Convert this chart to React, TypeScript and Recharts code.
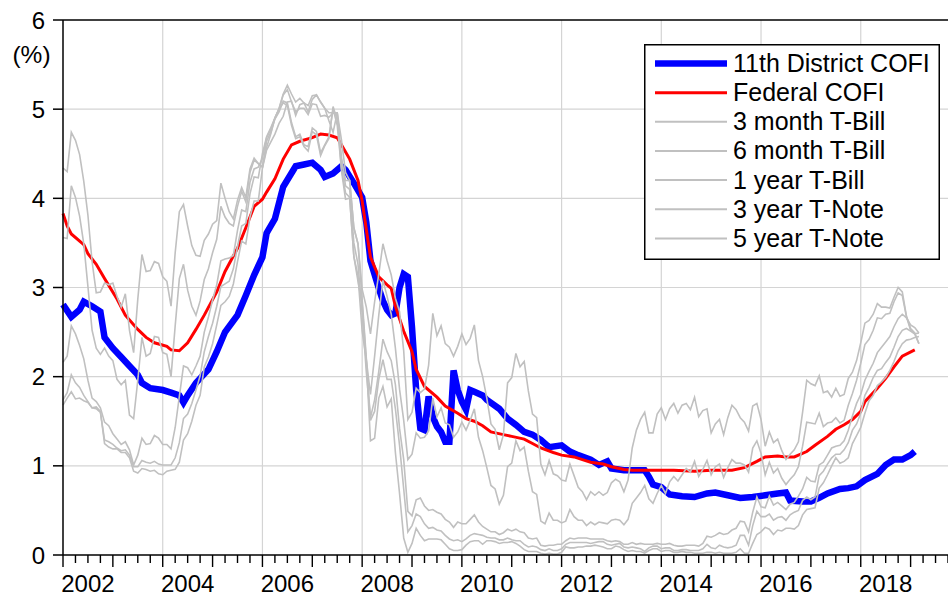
import React from 'react';
import { LineChart, Line, XAxis, YAxis, ReferenceLine, Legend, CartesianGrid } from 'recharts';

const FONT = '"Liberation Sans", Arial, Helvetica, sans-serif';

// 11th District COFI (month, %)
const cofi11Points: [string, number][] = [
  ['2002-01', 2.81], ['2002-03', 2.67], ['2002-05', 2.75], ['2002-06', 2.84], ['2002-08', 2.79], ['2002-10', 2.73],
  ['2002-11', 2.44], ['2003-01', 2.32], ['2003-03', 2.22], ['2003-05', 2.12], ['2003-07', 2.02], ['2003-08', 1.93],
  ['2003-10', 1.87], ['2004-01', 1.85], ['2004-03', 1.82], ['2004-05', 1.79], ['2004-06', 1.71], ['2004-07', 1.79],
  ['2004-09', 1.93], ['2004-12', 2.08], ['2005-02', 2.28], ['2005-04', 2.5], ['2005-07', 2.69], ['2005-09', 2.91],
  ['2005-11', 3.14], ['2006-01', 3.34], ['2006-02', 3.61], ['2006-04', 3.77], ['2006-06', 4.13], ['2006-09', 4.36],
  ['2006-11', 4.38], ['2007-01', 4.4], ['2007-03', 4.32], ['2007-04', 4.24], ['2007-06', 4.28], ['2007-08', 4.36],
  ['2007-09', 4.32], ['2007-11', 4.17], ['2008-01', 4.01], ['2008-02', 3.73], ['2008-03', 3.3], ['2008-05', 2.99],
  ['2008-06', 2.85], ['2008-07', 2.75], ['2008-08', 2.69], ['2008-09', 2.71], ['2008-10', 3.0], ['2008-11', 3.15],
  ['2008-12', 3.12], ['2009-01', 2.55], ['2009-02', 1.85], ['2009-03', 1.42], ['2009-04', 1.4], ['2009-05', 1.78],
  ['2009-06', 1.55], ['2009-07', 1.44], ['2009-08', 1.38], ['2009-09', 1.27], ['2009-10', 1.27], ['2009-11', 2.07],
  ['2009-12', 1.85], ['2010-01', 1.72], ['2010-02', 1.63], ['2010-03', 1.85], ['2010-04', 1.83], ['2010-06', 1.79],
  ['2010-07', 1.74], ['2010-10', 1.64], ['2010-12', 1.53], ['2011-02', 1.46], ['2011-04', 1.38], ['2011-06', 1.35],
  ['2011-08', 1.29], ['2011-10', 1.21], ['2012-01', 1.23], ['2012-03', 1.16], ['2012-05', 1.12], ['2012-08', 1.07],
  ['2012-10', 1.01], ['2012-12', 1.05], ['2013-01', 0.97], ['2013-04', 0.95], ['2013-06', 0.95], ['2013-09', 0.95],
  ['2013-10', 0.88], ['2013-11', 0.79], ['2014-01', 0.76], ['2014-03', 0.68], ['2014-06', 0.66], ['2014-09', 0.65],
  ['2014-12', 0.69], ['2015-02', 0.7], ['2015-05', 0.67], ['2015-08', 0.64], ['2015-11', 0.65], ['2016-02', 0.67],
  ['2016-05', 0.69], ['2016-07', 0.7], ['2016-08', 0.61], ['2016-11', 0.6], ['2017-01', 0.6], ['2017-03', 0.64],
  ['2017-05', 0.69], ['2017-08', 0.74], ['2017-10', 0.75], ['2017-12', 0.77], ['2018-02', 0.84], ['2018-05', 0.91],
  ['2018-07', 1.01], ['2018-09', 1.07], ['2018-11', 1.07], ['2019-01', 1.12], ['2019-02', 1.16],
];

// Federal COFI (month, %)
const fedCofiPoints: [string, number][] = [
  ['2002-01', 3.83], ['2002-02', 3.69], ['2002-03', 3.6], ['2002-06', 3.48], ['2002-07', 3.38], ['2002-09', 3.26],
  ['2002-11', 3.1], ['2003-02', 2.87], ['2003-04', 2.69], ['2003-07', 2.53], ['2003-09', 2.44], ['2003-11', 2.38],
  ['2004-02', 2.34], ['2004-03', 2.3], ['2004-05', 2.29], ['2004-07', 2.38], ['2004-09', 2.53], ['2004-11', 2.69],
  ['2005-02', 2.95], ['2005-04', 3.18], ['2005-07', 3.44], ['2005-09', 3.67], ['2005-11', 3.91], ['2006-01', 3.99],
  ['2006-02', 4.07], ['2006-04', 4.22], ['2006-06', 4.44], ['2006-08', 4.6], ['2006-10', 4.64], ['2007-01', 4.68],
  ['2007-03', 4.72], ['2007-05', 4.71], ['2007-07', 4.68], ['2007-08', 4.6], ['2007-10', 4.44], ['2007-12', 4.2],
  ['2008-01', 3.97], ['2008-02', 3.65], ['2008-03', 3.34], ['2008-05', 3.12], ['2008-07', 3.03], ['2008-08', 2.99],
  ['2008-09', 2.79], ['2008-11', 2.51], ['2009-01', 2.28], ['2009-02', 2.08], ['2009-04', 1.89], ['2009-07', 1.77],
  ['2009-09', 1.67], ['2009-12', 1.59], ['2010-02', 1.53], ['2010-04', 1.5], ['2010-06', 1.45], ['2010-08', 1.38],
  ['2010-11', 1.35], ['2011-01', 1.33], ['2011-04', 1.3], ['2011-06', 1.25], ['2011-08', 1.2], ['2011-11', 1.15],
  ['2012-01', 1.12], ['2012-04', 1.1], ['2012-06', 1.07], ['2012-08', 1.04], ['2012-11', 1.02], ['2013-01', 0.99],
  ['2013-04', 0.96], ['2013-06', 0.95], ['2013-09', 0.95], ['2014-01', 0.95], ['2014-04', 0.95], ['2014-09', 0.94],
  ['2015-01', 0.95], ['2015-06', 0.95], ['2015-09', 0.98], ['2015-12', 1.05], ['2016-02', 1.1], ['2016-05', 1.11],
  ['2016-07', 1.1], ['2016-09', 1.1], ['2016-12', 1.16], ['2017-02', 1.23], ['2017-05', 1.33], ['2017-07', 1.41],
  ['2017-09', 1.46], ['2017-11', 1.52], ['2018-01', 1.61], ['2018-02', 1.72], ['2018-05', 1.87], ['2018-07', 1.98],
  ['2018-09', 2.11], ['2018-11', 2.23], ['2019-02', 2.3],
];

// Treasury yields, monthly from 2002-01 to 2019-03 (%)
const TREASURY_START = '2002-01';

const tBill3m = [
  1.68, 1.76, 1.83, 1.75, 1.76, 1.73, 1.71, 1.65, 1.66, 1.61, 1.25, 1.21,
  1.19, 1.19, 1.15, 1.15, 1.09, 0.94, 0.92, 0.97, 0.96, 0.94, 0.95, 0.91,
  0.9, 0.94, 0.95, 0.96, 1.04, 1.29, 1.36, 1.5, 1.68, 1.79, 2.11, 2.22,
  2.37, 2.58, 2.8, 2.84, 2.9, 3.04, 3.29, 3.52, 3.49, 3.79, 3.97, 3.97,
  4.34, 4.54, 4.63, 4.72, 4.84, 4.92, 5.08, 5.09, 4.93, 5.05, 5.07, 4.97,
  5.11, 5.16, 5.08, 5.01, 4.87, 4.74, 4.96, 4.32, 3.99, 4.0, 3.35, 3.07,
  2.82, 2.17, 1.28, 1.31, 1.76, 1.89, 1.66, 1.75, 1.15, 0.69, 0.19, 0.03,
  0.13, 0.3, 0.22, 0.16, 0.18, 0.18, 0.18, 0.17, 0.12, 0.07, 0.05, 0.05,
  0.06, 0.11, 0.15, 0.16, 0.16, 0.12, 0.16, 0.16, 0.15, 0.13, 0.14, 0.14,
  0.15, 0.13, 0.1, 0.06, 0.04, 0.04, 0.04, 0.02, 0.01, 0.02, 0.01, 0.01,
  0.03, 0.09, 0.08, 0.08, 0.09, 0.09, 0.1, 0.1, 0.11, 0.1, 0.09, 0.07,
  0.07, 0.1, 0.09, 0.06, 0.04, 0.05, 0.04, 0.04, 0.02, 0.05, 0.07, 0.07,
  0.04, 0.05, 0.05, 0.03, 0.03, 0.04, 0.03, 0.03, 0.02, 0.02, 0.02, 0.03,
  0.03, 0.02, 0.03, 0.02, 0.02, 0.02, 0.03, 0.07, 0.02, 0.02, 0.13, 0.23,
  0.26, 0.31, 0.29, 0.23, 0.28, 0.27, 0.3, 0.3, 0.29, 0.33, 0.45, 0.51,
  0.52, 0.53, 0.75, 0.81, 0.9, 1.0, 1.09, 1.03, 1.05, 1.09, 1.25, 1.34,
  1.43, 1.59, 1.73, 1.79, 1.9, 1.94, 1.99, 2.07, 2.17, 2.29, 2.37, 2.41,
  2.42, 2.44, 2.45,
];

const tBill6m = [
  1.74, 1.82, 2.02, 1.93, 1.88, 1.79, 1.72, 1.65, 1.64, 1.6, 1.29, 1.27,
  1.24, 1.2, 1.17, 1.18, 1.12, 0.99, 0.99, 1.06, 1.04, 1.03, 1.05, 1.02,
  1.01, 1.01, 1.01, 1.09, 1.26, 1.53, 1.58, 1.7, 1.85, 2.01, 2.28, 2.45,
  2.6, 2.79, 3.01, 3.04, 3.07, 3.21, 3.46, 3.69, 3.72, 4.05, 4.24, 4.23,
  4.5, 4.69, 4.79, 4.9, 5.01, 5.17, 5.27, 5.17, 5.08, 5.12, 5.07, 5.04,
  5.15, 5.16, 5.08, 5.01, 4.96, 4.96, 4.96, 4.66, 4.29, 4.2, 3.67, 3.49,
  2.87, 2.21, 1.51, 1.61, 1.97, 2.19, 1.97, 1.97, 1.64, 1.23, 0.74, 0.26,
  0.33, 0.46, 0.43, 0.35, 0.3, 0.31, 0.28, 0.27, 0.22, 0.18, 0.16, 0.17,
  0.15, 0.18, 0.22, 0.24, 0.23, 0.22, 0.2, 0.19, 0.19, 0.17, 0.17, 0.19,
  0.17, 0.16, 0.16, 0.12, 0.09, 0.1, 0.09, 0.06, 0.05, 0.07, 0.05, 0.05,
  0.07, 0.12, 0.14, 0.14, 0.14, 0.14, 0.14, 0.13, 0.14, 0.15, 0.15, 0.12,
  0.11, 0.12, 0.13, 0.09, 0.08, 0.09, 0.08, 0.07, 0.04, 0.08, 0.1, 0.1,
  0.07, 0.08, 0.08, 0.05, 0.05, 0.06, 0.06, 0.05, 0.05, 0.05, 0.07, 0.12,
  0.08, 0.07, 0.11, 0.09, 0.08, 0.09, 0.11, 0.22, 0.22, 0.11, 0.33, 0.49,
  0.43, 0.43, 0.46, 0.39, 0.42, 0.43, 0.39, 0.45, 0.48, 0.5, 0.61, 0.65,
  0.62, 0.65, 0.89, 0.94, 1.02, 1.09, 1.13, 1.13, 1.18, 1.26, 1.4, 1.47,
  1.59, 1.79, 1.88, 1.99, 2.07, 2.09, 2.16, 2.22, 2.33, 2.45, 2.52, 2.54,
  2.51, 2.48, 2.49,
];

const tBill1y = [
  2.16, 2.23, 2.57, 2.48, 2.35, 2.2, 1.96, 1.76, 1.72, 1.65, 1.49, 1.45,
  1.36, 1.3, 1.24, 1.27, 1.18, 1.01, 1.12, 1.31, 1.24, 1.25, 1.34, 1.31,
  1.24, 1.24, 1.19, 1.43, 1.78, 2.12, 2.1, 2.02, 2.12, 2.23, 2.5, 2.67,
  2.86, 3.03, 3.3, 3.32, 3.33, 3.36, 3.64, 3.87, 3.85, 4.18, 4.33, 4.35,
  4.45, 4.68, 4.77, 4.9, 5.0, 5.16, 5.22, 5.08, 4.97, 5.01, 5.01, 4.94,
  5.06, 5.05, 4.92, 4.93, 4.91, 4.96, 4.96, 4.47, 4.14, 4.1, 3.5, 3.26,
  2.71, 2.05, 1.54, 1.74, 2.06, 2.42, 2.28, 2.18, 1.91, 1.42, 1.07, 0.49,
  0.44, 0.62, 0.64, 0.55, 0.5, 0.51, 0.48, 0.46, 0.4, 0.37, 0.31, 0.37,
  0.35, 0.35, 0.4, 0.45, 0.37, 0.32, 0.29, 0.26, 0.26, 0.23, 0.25, 0.29,
  0.27, 0.29, 0.26, 0.25, 0.19, 0.18, 0.19, 0.11, 0.1, 0.11, 0.11, 0.12,
  0.12, 0.16, 0.19, 0.18, 0.19, 0.19, 0.19, 0.18, 0.18, 0.18, 0.18, 0.16,
  0.15, 0.16, 0.15, 0.12, 0.12, 0.14, 0.12, 0.13, 0.12, 0.12, 0.12, 0.13,
  0.12, 0.12, 0.13, 0.11, 0.1, 0.1, 0.11, 0.11, 0.11, 0.1, 0.13, 0.21,
  0.2, 0.22, 0.25, 0.23, 0.24, 0.28, 0.3, 0.38, 0.37, 0.26, 0.48, 0.65,
  0.54, 0.53, 0.66, 0.56, 0.59, 0.55, 0.51, 0.57, 0.59, 0.66, 0.74, 0.87,
  0.83, 0.82, 1.01, 1.04, 1.12, 1.2, 1.22, 1.23, 1.28, 1.4, 1.56, 1.7,
  1.8, 1.96, 2.06, 2.15, 2.27, 2.33, 2.39, 2.45, 2.56, 2.65, 2.7, 2.66,
  2.58, 2.55, 2.49,
];

const tNote3y = [
  3.56, 3.55, 4.14, 4.01, 3.8, 3.49, 3.01, 2.52, 2.32, 2.25, 2.32, 2.23,
  2.18, 1.97, 1.91, 1.96, 1.57, 1.53, 1.96, 2.44, 2.23, 2.26, 2.45, 2.44,
  2.27, 2.25, 2.0, 2.57, 3.1, 3.26, 2.97, 2.79, 2.69, 2.85, 3.09, 3.21,
  3.39, 3.54, 3.91, 3.79, 3.72, 3.69, 3.91, 4.08, 3.96, 4.29, 4.43, 4.39,
  4.35, 4.64, 4.74, 4.89, 4.97, 5.09, 5.07, 4.85, 4.69, 4.72, 4.6, 4.58,
  4.79, 4.75, 4.51, 4.6, 4.69, 5.0, 4.82, 4.34, 4.06, 4.01, 3.35, 3.13,
  2.51, 2.19, 1.8, 2.23, 2.69, 3.08, 2.9, 2.7, 2.32, 1.86, 1.51, 1.07,
  1.13, 1.37, 1.31, 1.32, 1.39, 1.76, 1.55, 1.65, 1.48, 1.46, 1.32, 1.38,
  1.49, 1.4, 1.51, 1.64, 1.32, 1.17, 0.98, 0.78, 0.74, 0.57, 0.67, 0.99,
  1.03, 1.28, 1.17, 1.21, 0.94, 0.71, 0.68, 0.38, 0.35, 0.47, 0.39, 0.39,
  0.36, 0.38, 0.51, 0.43, 0.39, 0.39, 0.33, 0.37, 0.34, 0.37, 0.36, 0.35,
  0.39, 0.4, 0.39, 0.34, 0.4, 0.58, 0.64, 0.7, 0.78, 0.63, 0.58, 0.69,
  0.78, 0.69, 0.82, 0.88, 0.83, 0.9, 0.97, 0.93, 1.05, 0.88, 0.96, 1.06,
  0.9, 0.99, 1.02, 0.87, 0.98, 1.07, 1.03, 1.03, 1.01, 0.93, 1.2, 1.28,
  1.14, 0.9, 1.04, 0.92, 0.97, 0.86, 0.79, 0.85, 0.9, 0.99, 1.22, 1.49,
  1.48, 1.47, 1.59, 1.44, 1.48, 1.49, 1.54, 1.48, 1.51, 1.68, 1.81, 1.96,
  2.15, 2.36, 2.42, 2.52, 2.66, 2.65, 2.7, 2.71, 2.84, 2.94, 2.91, 2.67,
  2.52, 2.48, 2.37,
];

const tNote5y = [
  4.34, 4.3, 4.74, 4.65, 4.49, 4.19, 3.81, 3.29, 2.94, 2.95, 3.05, 3.03,
  3.05, 2.9, 2.78, 2.93, 2.52, 2.27, 2.87, 3.37, 3.18, 3.19, 3.29, 3.27,
  3.12, 3.07, 2.79, 3.39, 3.85, 3.93, 3.69, 3.47, 3.36, 3.35, 3.53, 3.6,
  3.71, 3.75, 4.17, 4.0, 3.85, 3.77, 3.98, 4.12, 4.01, 4.33, 4.45, 4.39,
  4.35, 4.57, 4.72, 4.9, 5.0, 5.07, 5.04, 4.82, 4.67, 4.69, 4.58, 4.53,
  4.75, 4.71, 4.48, 4.59, 4.67, 5.03, 4.88, 4.43, 4.2, 4.2, 3.67, 3.49,
  2.98, 2.78, 2.48, 2.84, 3.15, 3.49, 3.3, 3.14, 2.88, 2.73, 2.29, 1.52,
  1.6, 1.87, 1.82, 1.86, 2.13, 2.71, 2.46, 2.57, 2.37, 2.33, 2.23, 2.34,
  2.48, 2.36, 2.43, 2.58, 2.18, 2.0, 1.76, 1.47, 1.41, 1.18, 1.35, 1.93,
  1.99, 2.26, 2.11, 2.17, 1.84, 1.58, 1.54, 1.02, 0.9, 1.06, 0.91, 0.89,
  0.84, 0.83, 1.02, 0.89, 0.76, 0.71, 0.62, 0.71, 0.67, 0.71, 0.67, 0.7,
  0.81, 0.85, 0.82, 0.71, 0.84, 1.2, 1.4, 1.52, 1.6, 1.37, 1.37, 1.58,
  1.65, 1.52, 1.64, 1.7, 1.59, 1.68, 1.7, 1.63, 1.77, 1.55, 1.62, 1.64,
  1.37, 1.47, 1.52, 1.35, 1.54, 1.68, 1.63, 1.54, 1.49, 1.39, 1.67, 1.7,
  1.52, 1.22, 1.38, 1.26, 1.3, 1.17, 1.07, 1.13, 1.18, 1.27, 1.6, 1.96,
  1.92, 1.9, 2.01, 1.82, 1.84, 1.77, 1.87, 1.78, 1.8, 1.98, 2.05, 2.18,
  2.38, 2.6, 2.63, 2.7, 2.82, 2.78, 2.78, 2.77, 2.89, 3.0, 2.95, 2.68,
  2.54, 2.49, 2.37,
];

const yTicks = [0, 1, 2, 3, 4, 5, 6];
const gridRates = [1, 2, 3, 4, 5];
const gridYears = [2004, 2006, 2008, 2010, 2012, 2014, 2016, 2018];
const labelYears = [2002, 2004, 2006, 2008, 2010, 2012, 2014, 2016, 2018];
const X_DOMAIN: [number, number] = [2002, 2019.75];

type SeriesDef = { key: string; name: string; color: string; width: number };
const SERIES: SeriesDef[] = [
  { key: 'cofi11', name: '11th District COFI', color: '#0000FF', width: 6.5 },
  { key: 'fedCofi', name: 'Federal COFI', color: '#FF0000', width: 3 },
  { key: 'tb3m', name: '3 month T-Bill', color: '#C0C0C0', width: 1.6 },
  { key: 'tb6m', name: '6 month T-Bill', color: '#C0C0C0', width: 1.6 },
  { key: 'tb1y', name: '1 year T-Bill', color: '#C0C0C0', width: 1.6 },
  { key: 'tn3y', name: '3 year T-Note', color: '#C0C0C0', width: 1.6 },
  { key: 'tn5y', name: '5 year T-Note', color: '#C0C0C0', width: 1.6 },
];

const monthIndex = (s: string) => {
  const [y, m] = s.split('-').map(Number);
  return y * 12 + (m - 1);
};

const buildData = () => {
  const rows = new Map<number, Record<string, number>>();
  const put = (idx: number, key: string, v: number) => {
    let r = rows.get(idx);
    if (!r) {
      r = { t: idx / 12 };
      rows.set(idx, r);
    }
    r[key] = v;
  };
  cofi11Points.forEach(([d, v]) => put(monthIndex(d), 'cofi11', v));
  fedCofiPoints.forEach(([d, v]) => put(monthIndex(d), 'fedCofi', v));
  const s0 = monthIndex(TREASURY_START);
  const monthly: [string, number[]][] = [
    ['tb3m', tBill3m], ['tb6m', tBill6m], ['tb1y', tBill1y], ['tn3y', tNote3y], ['tn5y', tNote5y],
  ];
  monthly.forEach(([key, arr]) => arr.forEach((v, i) => put(s0 + i, key, v)));
  return Array.from(rows.values()).sort((a, b) => a.t - b.t);
};

const data = buildData();

// quarterly tick positions on the time axis
const xTicks: number[] = [];
for (let q = X_DOMAIN[0] * 4; q <= X_DOMAIN[1] * 4; q++) xTicks.push(q / 4);

const TICK_COLOR = '#000000';

const XTick = (props: any) => {
  const { x, y, payload } = props;
  const v: number = payload.value;
  const px = Number(x);
  const py = Number(y);
  const isYear = Math.abs(v - Math.round(v)) < 1e-6;
  const len = isYear ? 12 : 8;
  const labelYear = v - 0.5;
  const showLabel = labelYears.some((yr) => Math.abs(yr - labelYear) < 1e-6);
  return (
    <g>
      <rect x={px - 0.7} y={py} width={1.4} height={len} fill={TICK_COLOR} />
      {showLabel && (
        <text x={px} y={py + 37} textAnchor="middle" fill="#000" fontSize={24} fontFamily={FONT}>
          {String(Math.round(labelYear))}
        </text>
      )}
    </g>
  );
};

const LegendBox = () => {
  const rowH = 29.15;
  return (
    <svg width={296} height={216} style={{ display: 'block' }}>
      <rect x={0.75} y={0.75} width={294.5} height={214.5} fill="#fff" stroke="#000" strokeWidth={1.5} />
      {SERIES.map((s, i) => {
        const cy = 19.5 + i * rowH;
        return (
          <g key={s.key}>
            <line x1={11} x2={83} y1={cy} y2={cy} stroke={s.color} strokeWidth={s.width > 2 ? s.width : 2} />
            <text x={89} y={cy + 8.5} fontSize={25} fontFamily={FONT} fill="#000">
              {s.name}
            </text>
          </g>
        );
      })}
    </svg>
  );
};

export default function App() {
  return (
    <div style={{ position: 'absolute', left: 0, top: 0, width: 948, height: 596, background: '#fff', fontFamily: FONT }}>
      <LineChart width={948} height={596} data={data} margin={{ top: 20, right: 0, bottom: 0, left: 0 }}>
        <CartesianGrid
          stroke="#D4D4D4"
          strokeWidth={1.2}
          horizontalValues={gridRates}
          verticalValues={gridYears}
        />
        <XAxis
          dataKey="t"
          type="number"
          domain={X_DOMAIN}
          ticks={xTicks}
          interval={0}
          tickSize={0}
          tickMargin={0}
          tickLine={false}
          tick={(p: any) => <XTick {...p} />}
          axisLine={{ stroke: '#000', strokeWidth: 1.5 }}
          height={41}
        />
        <YAxis
          type="number"
          domain={[0, 6]}
          ticks={yTicks}
          interval={0}
          width={63}
          tickSize={10}
          tickMargin={8}
          tick={{ fill: '#000', fontSize: 24, fontFamily: FONT }}
          tickLine={{ stroke: TICK_COLOR, strokeWidth: 1.5 }}
          axisLine={{ stroke: '#000', strokeWidth: 1.5 }}
          label={{ value: '(%)', position: 'insideTop', offset: 26, fill: '#000', fontSize: 24.5, fontFamily: FONT }}
        />
        {SERIES.map((s) => (
          <Line
            key={s.key}
            type="linear"
            dataKey={s.key}
            name={s.name}
            stroke={s.color}
            strokeWidth={s.width}
            dot={false}
            activeDot={false}
            connectNulls
            isAnimationActive={false}
          />
        ))}
        <ReferenceLine y={6} stroke="#000" strokeWidth={1.5} />
        <Legend
          layout="vertical"
          align="center"
          verticalAlign="middle"
          content={() => <LegendBox />}
          wrapperStyle={{ left: 644, top: 44, width: 296, height: 216 }}
        />
      </LineChart>
    </div>
  );
}
